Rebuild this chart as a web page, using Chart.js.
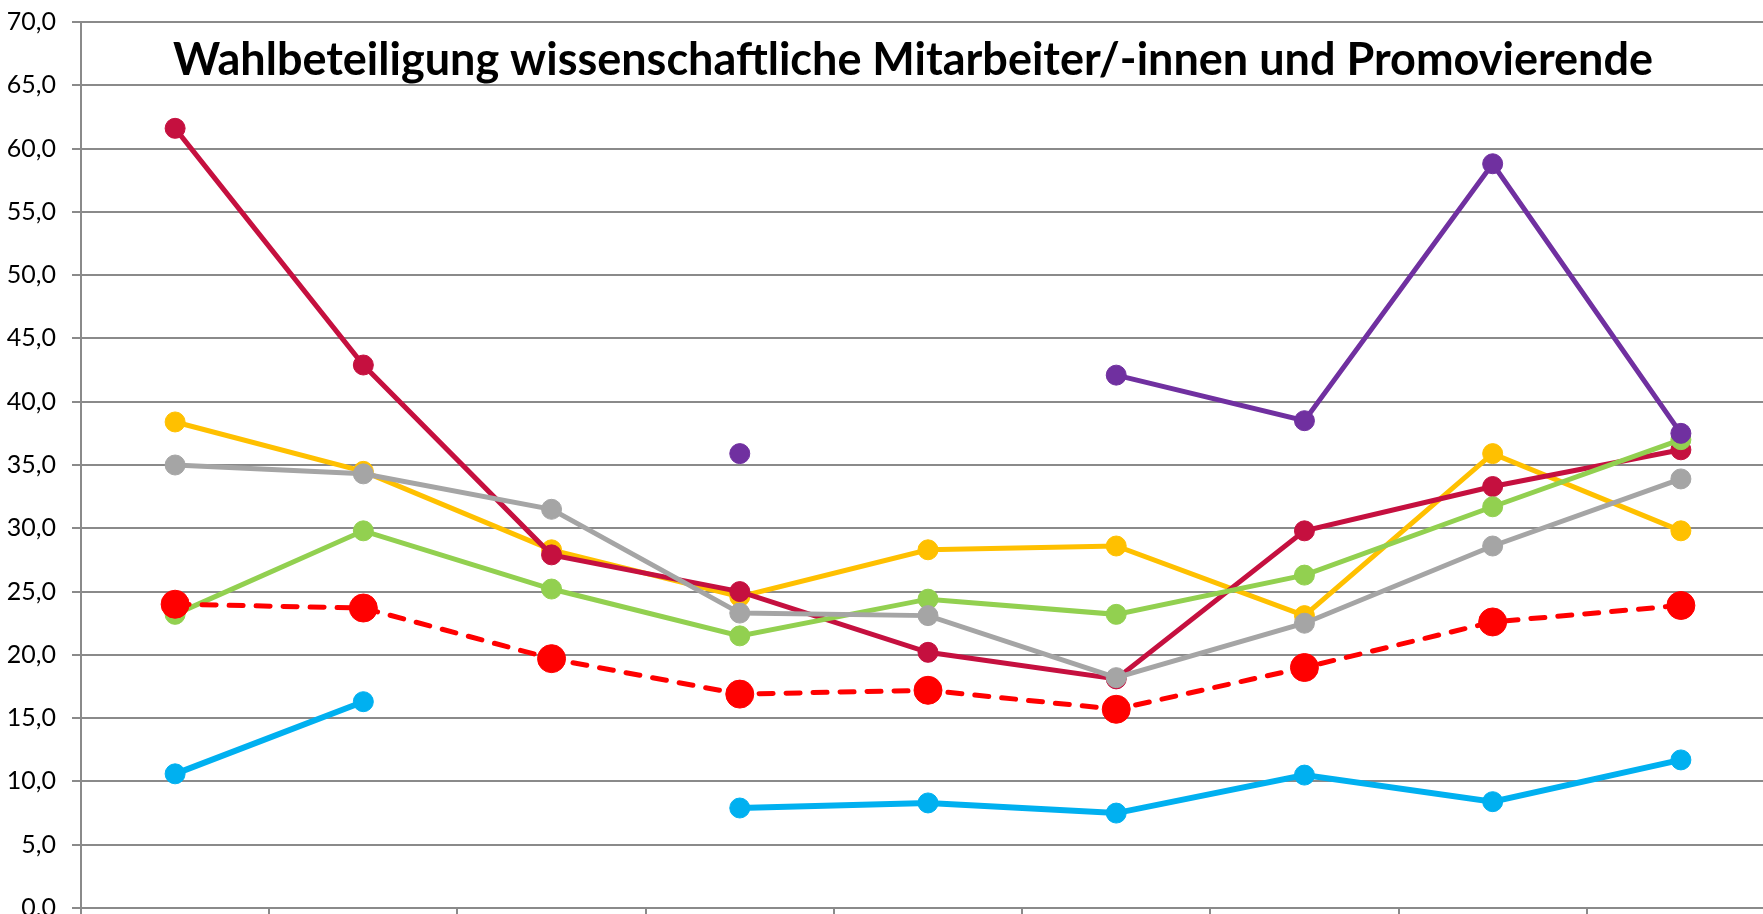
<!DOCTYPE html>
<html>
<head>
<meta charset="utf-8">
<script src="https://cdn.jsdelivr.net/npm/chart.js@4.4.1/dist/chart.umd.min.js"></script>
<style>
  html, body { margin: 0; padding: 0; overflow: hidden; background: #fff; }
  #wrap { position: absolute; left: 0; top: 0; }
</style>
</head>
<body>
<div id="wrap"><canvas id="chart" width="1800" height="960"></canvas></div>
<script>
// the category labels sit below the visible crop, so they are not shown
const categories = ["Wahl 1", "Wahl 2", "Wahl 3", "Wahl 4", "Wahl 5", "Wahl 6", "Wahl 7", "Wahl 8", "Wahl 9"];
const yTicks = [0, 5, 10, 15, 20, 25, 30, 35, 40, 45, 50, 55, 60, 65, 70];

const purple  = [null, null, null, 35.9, null, 42.1, 38.5, 58.8, 37.5];
const gesamt  = [24.0, 23.7, 19.7, 16.9, 17.2, 15.7, 19.0, 22.6, 23.9];
const grau    = [35.0, 34.3, 31.5, 23.3, 23.1, 18.2, 22.5, 28.6, 33.9];
const gruen   = [23.2, 29.8, 25.2, 21.5, 24.4, 23.2, 26.3, 31.7, 37.0];
const karmin  = [61.6, 42.9, 27.9, 25.0, 20.2, 18.1, 29.8, 33.3, 36.2];
const gelb    = [38.4, 34.5, 28.3, 24.6, 28.3, 28.6, 23.1, 35.9, 29.8];
const blau    = [10.6, 16.3, null, 7.9, 8.3, 7.5, 10.5, 8.4, 11.7];

const titleText = "Wahlbeteiligung wissenschaftliche Mitarbeiter/-innen und Promovierende";

function line(label, data, color, extra) {
  return Object.assign({
    label: label,
    data: data,
    borderColor: color,
    backgroundColor: color,
    pointBackgroundColor: color,
    pointBorderColor: color,
    borderWidth: 5,
    pointRadius: 10,
    pointBorderWidth: 1,
    tension: 0,
    spanGaps: false,
  }, extra || {});
}

const overlayTitle = {
  id: "overlayTitle",
  afterDraw(chart) {
    const ctx = chart.ctx;
    ctx.save();
    ctx.font = "bold 45px Lato";
    ctx.fillStyle = "#000";
    ctx.textAlign = "center";
    ctx.textBaseline = "alphabetic";
    ctx.fillText(titleText, 913, 75);
    ctx.restore();
  }
};

new Chart(document.getElementById("chart"), {
  type: "line",
  data: {
    labels: categories,
    datasets: [
      line("Fakultät A", purple, "#7030A0"),
      line("Gesamt", gesamt, "#FF0000", { borderWidth: 5, pointRadius: 14, borderDash: [14, 13], borderCapStyle: "round" }),
      line("Fakultät B", grau, "#A5A5A5"),
      line("Fakultät C", gruen, "#92D050"),
      line("Fakultät D", karmin, "#C5103F"),
      line("Fakultät E", gelb, "#FFC000"),
      line("Fakultät F", blau, "#00B0F0", { borderWidth: 6 }),
    ],
  },
  options: {
    responsive: false,
    animation: false,
    devicePixelRatio: 1,
    layout: { padding: { top: 22, right: 25, bottom: 32, left: 0 } },
    plugins: {
      legend: { display: false },
      title: { display: false },
      tooltip: { enabled: false },
    },
    scales: {
      x: {
        offset: true,
        afterFit: (scale) => { scale.height = 20; },
        grid: {
          offset: true,
          drawOnChartArea: false,
          drawTicks: true,
          tickLength: 9,
          color: "#8a8a8a",
          lineWidth: 2,
        },
        border: { display: true, color: "#8a8a8a", width: 2 },
        ticks: { display: false },
      },
      y: {
        min: 0,
        max: 70,
        afterFit: (scale) => {
          scale.width = 81;
          scale.paddingTop = 0;
          scale.paddingBottom = 0;
        },
        afterBuildTicks: (scale) => { scale.ticks = yTicks.map((v) => ({ value: v })); },
        grid: {
          color: "#8a8a8a",
          lineWidth: 2,
          tickLength: 9,
        },
        border: { display: true, color: "#8a8a8a", width: 2 },
        ticks: {
          padding: 16,
          color: "#000",
          font: { family: "Lato", size: 25 },
          callback: (v) => Number(v).toFixed(1).replace(".", ","),
        },
      },
    },
  },
  plugins: [overlayTitle],
});
</script>
</body>
</html>
